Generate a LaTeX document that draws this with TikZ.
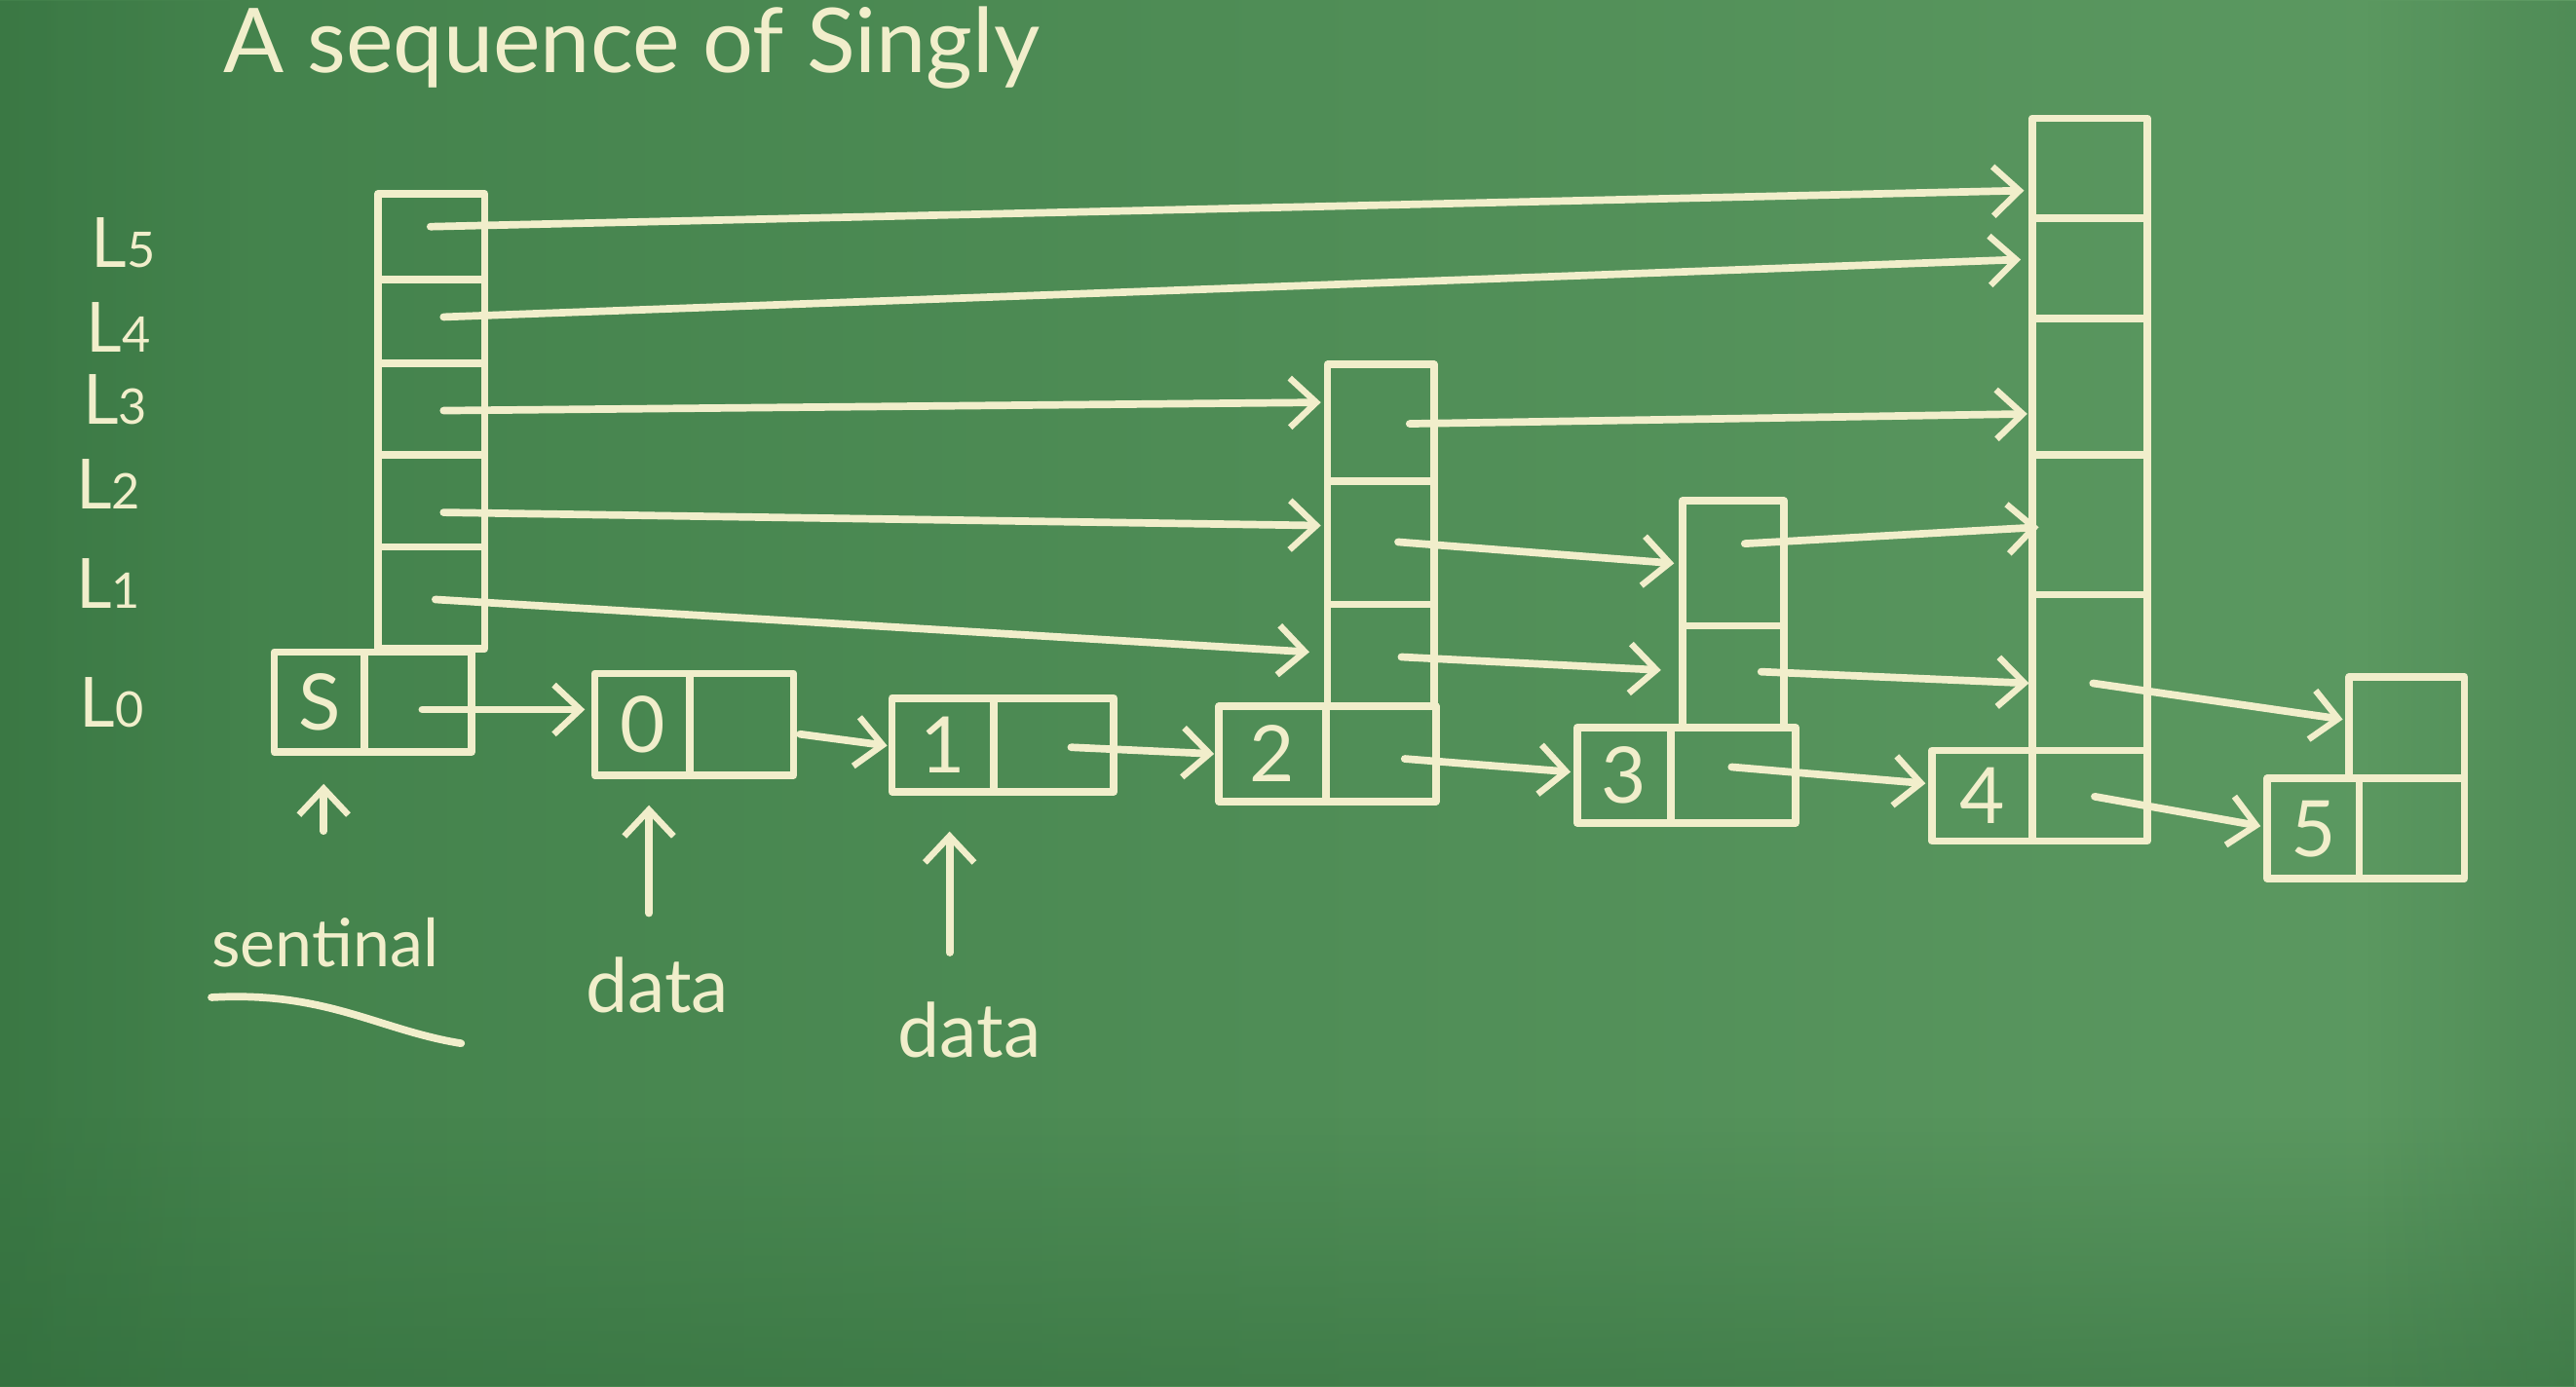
\documentclass[tikz,border=0pt]{standalone}
\usepackage{fontspec}
\setmainfont{Lato}
\usetikzlibrary{arrows.meta,fit,fadings}
\definecolor{chalk}{HTML}{F1EECB}
\definecolor{boardL}{HTML}{41804A}
\definecolor{boardM}{HTML}{67A26B}
\definecolor{boardR}{HTML}{5D9A62}
\definecolor{boardD}{HTML}{2F6A3A}
\begin{document}
\begin{tikzpicture}[x=0.2mm,y=-0.2mm,
  chalkline/.style={draw=chalk,line width=2.6pt,line cap=round,line join=round},
  cell/.style={chalkline,inner sep=0pt},
  key/.style={text=chalk,font=\fontsize{27}{27}\selectfont,inner sep=0pt},
  ptr/.style={chalkline,-{Straight Barb[length=3.2mm,width=6mm,line width=2.2pt]}},
  lvl/.style={text=chalk,font=\fontsize{24}{24}\selectfont},
  note/.style={text=chalk,font=\fontsize{26}{26}\selectfont},
]
% board
\useasboundingbox (0,0) rectangle (1568,844);
\clip (0,0) rectangle (1568,844);
\shade[left color=boardL,middle color=boardM,right color=boardR] (0,0) rectangle (1568,844);
\fill[boardD,opacity=0.45,path fading=north] (0,680) rectangle (1568,844);
\fill[boardD,opacity=0.35,path fading=east] (0,0) rectangle (140,844);
\fill[boardD,opacity=0.3,path fading=west] (1440,0) rectangle (1568,844);

% title
\node[anchor=base west,text=chalk,font=\fontsize{31}{31}\selectfont] (title) at (130,44) {A sequence of Singly};

% level labels
\node[lvl] (lab5) at (75,148) {L{\fontsize{17}{17}\selectfont 5}};
\node[lvl] (lab4) at (72,199) {L{\fontsize{17}{17}\selectfont 4}};
\node[lvl] (lab3) at (70,243) {L{\fontsize{17}{17}\selectfont 3}};
\node[lvl] (lab2) at (66,295) {L{\fontsize{17}{17}\selectfont 2}};
\node[lvl] (lab1) at (66,355) {L{\fontsize{17}{17}\selectfont 1}};
\node[lvl] (lab0) at (68,428) {L{\fontsize{17}{17}\selectfont 0}};

% sentinel
\node[cell,fit={(167,397) (222,458)}] (SK) {};
\node[cell,fit={(222,397) (287,458)}] (SP) {};
\node[cell,fit={(230,333) (295,395)}] (S1) {};
\node[cell,fit={(230,277) (295,333)}] (S2) {};
\node[cell,fit={(230,221) (295,277)}] (S3) {};
\node[cell,fit={(230,170) (295,221)}] (S4) {};
\node[cell,fit={(230,118) (295,170)}] (S5) {};

% node 0
\node[cell,fit={(362,410) (420,472)}] (N0K) {};
\node[cell,fit={(420,410) (483,472)}] (N0P) {};
% node 1
\node[cell,fit={(543,425) (605,482)}] (N1K) {};
\node[cell,fit={(605,425) (678,482)}] (N1P) {};
% node 2
\node[cell,fit={(742,430) (807,488)}] (N2K) {};
\node[cell,fit={(807,430) (874,488)}] (N2P) {};
\node[cell,fit={(808,368) (873,430)}] (N21) {};
\node[cell,fit={(808,293) (873,368)}] (N22) {};
\node[cell,fit={(808,222) (873,293)}] (N23) {};
% node 3
\node[cell,fit={(960,443) (1017,501)}] (N3K) {};
\node[cell,fit={(1017,443) (1093,501)}] (N3P) {};
\node[cell,fit={(1024,381) (1086,443)}] (N31) {};
\node[cell,fit={(1024,305) (1086,381)}] (N32) {};
% node 4
\node[cell,fit={(1176,457) (1237,512)}] (N4K) {};
\node[cell,fit={(1237,457) (1307,512)}] (N4P) {};
\node[cell,fit={(1237,362) (1307,457)}] (N41) {};
\node[cell,fit={(1237,277) (1307,362)}] (N42) {};
\node[cell,fit={(1237,194) (1307,277)}] (N43) {};
\node[cell,fit={(1237,133) (1307,194)}] (N44) {};
\node[cell,fit={(1237,72) (1307,133)}] (N45) {};
% node 5
\node[cell,fit={(1380,474) (1436,535)}] (N5K) {};
\node[cell,fit={(1436,474) (1500,535)}] (N5P) {};
\node[cell,fit={(1430,412) (1500,474)}] (N51) {};

% keys
\node[key] (kS) at (SK.center) {S};
\node[key] (k0) at (N0K.center) {0};
\node[key] (k1) at (N1K.center) {1};
\node[key] (k2) at (N2K.center) {2};
\node[key] (k3) at (N3K.center) {3};
\node[key] (k4) at (N4K.center) {4};
\node[key] (k5) at (N5K.center) {5};

% pointer start points (inside cells) and arrow ends
\coordinate (s5) at (262,138);  \coordinate (e5) at (1232,116);
\coordinate (s4) at (270,193);  \coordinate (e4) at (1230,158);
\coordinate (s3) at (270,250);  \coordinate (e3) at (804,245);
\coordinate (s2) at (270,312);  \coordinate (e2) at (804,320);
\coordinate (s1) at (265,365);  \coordinate (e1) at (797,397);
\coordinate (s0) at (257,432);  \coordinate (e0) at (356,432);
\coordinate (n0s) at (487,447); \coordinate (n0e) at (540,454);
\coordinate (n1s) at (652,455); \coordinate (n1e) at (739,459);
\coordinate (n23s) at (858,258); \coordinate (n23e) at (1234,252);
\coordinate (n22s) at (851,330); \coordinate (n22e) at (1019,343);
\coordinate (n21s) at (853,400); \coordinate (n21e) at (1011,408);
\coordinate (n20s) at (855,462); \coordinate (n20e) at (956,470);
\coordinate (n32s) at (1062,331); \coordinate (n32e) at (1241,321);
\coordinate (n31s) at (1072,409); \coordinate (n31e) at (1235,416);
\coordinate (n30s) at (1054,467); \coordinate (n30e) at (1172,477);
\coordinate (n41s) at (1274,416); \coordinate (n41e) at (1426,438);
\coordinate (n40s) at (1275,485); \coordinate (n40e) at (1376,503);

\draw[ptr] (s5) -- (e5);
\draw[ptr] (s4) -- (e4);
\draw[ptr] (s3) -- (e3);
\draw[ptr] (s2) -- (e2);
\draw[ptr] (s1) -- (e1);
\draw[ptr] (s0) -- (e0);
\draw[ptr] (n0s) -- (n0e);
\draw[ptr] (n1s) -- (n1e);
\draw[ptr] (n23s) -- (n23e);
\draw[ptr] (n22s) -- (n22e);
\draw[ptr] (n21s) -- (n21e);
\draw[ptr] (n20s) -- (n20e);
\draw[ptr] (n32s) -- (n32e);
\draw[ptr] (n31s) -- (n31e);
\draw[ptr] (n30s) -- (n30e);
\draw[ptr] (n41s) -- (n41e);
\draw[ptr] (n40s) -- (n40e);

% annotations
\node[note,font=\fontsize{23}{23}\selectfont] (sent) at (198,574) {sentinal};
\node[note] (data0) at (400,600) {data};
\node[note] (data1) at (590,627) {data};
\coordinate (uS) at (197,506);
\coordinate (u0) at (395,556);
\coordinate (u1) at (578,580);
\draw[ptr,shorten >=3.4mm] (uS) -- (uS |- SK.south);
\draw[ptr,shorten >=3.2mm] (u0) -- (u0 |- N0K.south);
\draw[ptr,shorten >=4.4mm] (u1) -- (u1 |- N1K.south);
\draw[chalkline] (sent.south west) ++(6,12) .. controls +(70,-4) and +(-50,-8) .. ++(152,28);
\end{tikzpicture}
\end{document}
